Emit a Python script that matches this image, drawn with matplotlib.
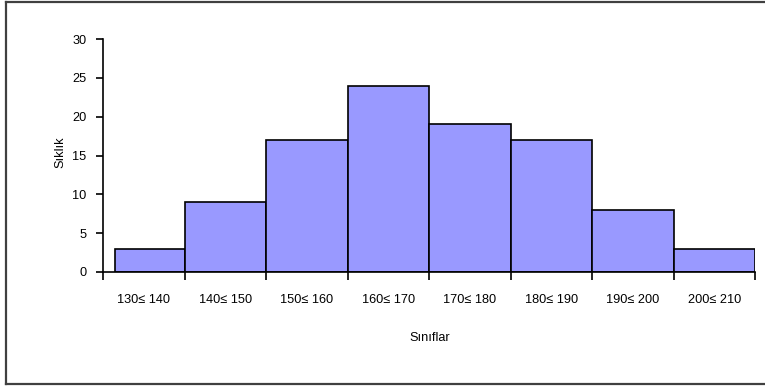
import matplotlib
matplotlib.use("Agg")
import matplotlib.pyplot as plt
from matplotlib.lines import Line2D
import numpy as np

categories = ["130≤ 140", "140≤ 150", "150≤ 160", "160≤ 170",
              "170≤ 180", "180≤ 190", "190≤ 200", "200≤ 210"]
frequencies = [3, 9, 17, 24, 19, 17, 8, 3]
y_ticks = [0, 5, 10, 15, 20, 25, 30]

W, H = 765, 389
fig = plt.figure(figsize=(W / 100, H / 100), dpi=100)
plt.rcParams['font.family'] = ['Liberation Sans', 'DejaVu Sans']

ax = fig.add_axes([103 / W, (H - 272) / H, (755 - 103) / W, (272 - 39) / H])

n = len(categories)
lefts = np.arange(n, dtype=float)
widths = np.ones(n)
lefts[0] += 0.15
widths[0] -= 0.15
ax.bar(lefts, frequencies, width=widths, align='edge', color='#9999FF',
       edgecolor='black', linewidth=1.2)

fs = 9.2
ax.set_xlim(0, n)
ax.set_ylim(0, 30)
ax.set_yticks(y_ticks)
ax.set_yticklabels([str(v) for v in y_ticks], fontsize=fs)
ax.set_xticks(np.arange(n + 1))
ax.set_xticklabels([])
ax.set_xticks(np.arange(n) + 0.5, minor=True)
ax.set_xticklabels(categories, minor=True, fontsize=fs)
ax.tick_params(axis='x', which='major', direction='out', length=6, width=1.2)
ax.tick_params(axis='x', which='minor', length=0, pad=16)
ax.tick_params(axis='y', direction='out', length=5, width=1.2, pad=7)

for s in ['top', 'right']:
    ax.spines[s].set_visible(False)
for s in ['left', 'bottom']:
    ax.spines[s].set_linewidth(1.2)

fig.text(60 / W, 1 - 152 / H, "Sıklık", rotation=90, ha='center', va='center', fontsize=fs)
fig.text(430 / W, 1 - 338 / H, "Sınıflar", ha='center', va='center', fontsize=fs)

# outer frame (left, top, bottom visible)
c = '#404040'
fig.add_artist(Line2D([6.5 / W, 6.5 / W], [1 - 1.5 / H, 1 - 384 / H], transform=fig.transFigure, color=c, lw=1.6))
fig.add_artist(Line2D([6.5 / W, 1.0], [1 - 1.5 / H, 1 - 1.5 / H], transform=fig.transFigure, color=c, lw=1.6))
fig.add_artist(Line2D([6.5 / W, 1.0], [1 - 384 / H, 1 - 384 / H], transform=fig.transFigure, color=c, lw=1.6))

fig.savefig("out.png", dpi=100)
